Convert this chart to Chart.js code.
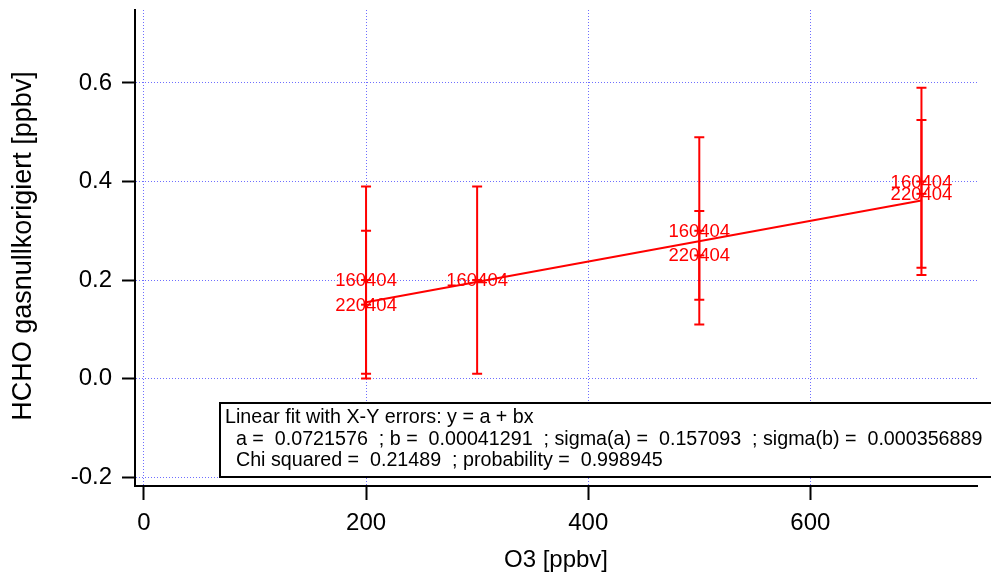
<!DOCTYPE html>
<html>
<head>
<meta charset="utf-8">
<script src="https://cdn.jsdelivr.net/npm/chart.js@4.4.1/dist/chart.umd.min.js"></script>
<style>
  html, body { margin: 0; padding: 0; background: #fff; }
  #wrap { width: 991px; height: 575px; }
</style>
</head>
<body>
<div id="wrap"><canvas id="c" width="991" height="575"></canvas></div>
<script>
// ---- data ----
const xValues = [200, 200, 300, 500, 500, 700, 700];
const yValues = [0.2, 0.15, 0.2, 0.3, 0.25, 0.4, 0.375];
const yErrors = [0.19, 0.15, 0.19, 0.19, 0.09, 0.19, 0.15];
const pointLabels = ['160404', '220404', '160404', '160404', '220404', '160404', '220404'];
const fitLineX = [200, 700];
const fitLineY = [0.1547, 0.3612];
const xTicks = [0, 200, 400, 600];
const yTicks = [-0.2, 0.0, 0.2, 0.4, 0.6];
const xRange = [-8, 750];
const yRange = [-0.218, 0.748];
const xTitle = 'O3 [ppbv]';
const yTitle = 'HCHO gasnullkorigiert [ppbv]';
const fitText = [
  'Linear fit with X-Y errors: y = a + bx',
  '  a =  0.0721576  ; b =  0.00041291  ; sigma(a) =  0.157093  ; sigma(b) =  0.000356889',
  '  Chi squared =  0.21489  ; probability =  0.998945'
];

const FONT = '"Liberation Sans", Arial, Helvetica, sans-serif';
const RED = '#ff0000';

const errorBarPlugin = {
  id: 'errorBars',
  afterDatasetsDraw(chart) {
    const ctx = chart.ctx;
    const xs = chart.scales.x, ys = chart.scales.y;
    ctx.save();
    ctx.strokeStyle = RED;
    ctx.lineWidth = 2;
    for (let i = 0; i < xValues.length; i++) {
      const px = xs.getPixelForValue(xValues[i]);
      const pTop = ys.getPixelForValue(yValues[i] + yErrors[i]);
      const pBot = ys.getPixelForValue(yValues[i] - yErrors[i]);
      ctx.beginPath();
      ctx.moveTo(px, pTop); ctx.lineTo(px, pBot);
      ctx.moveTo(px - 5, pTop); ctx.lineTo(px + 5, pTop);
      ctx.moveTo(px - 5, pBot); ctx.lineTo(px + 5, pBot);
      ctx.stroke();
    }
    ctx.fillStyle = RED;
    ctx.font = '18.5px ' + FONT;
    ctx.textAlign = 'center';
    ctx.textBaseline = 'middle';
    for (let i = 0; i < xValues.length; i++) {
      const px = xs.getPixelForValue(xValues[i]);
      const py = ys.getPixelForValue(yValues[i]);
      ctx.fillText(pointLabels[i], px, py + 1);
    }
    ctx.restore();
  },
  afterDraw(chart) {
    const ctx = chart.ctx;
    const area = chart.chartArea;
    ctx.save();
    // fit info box
    ctx.fillStyle = '#fff';
    ctx.fillRect(220, 403, 800, 74);
    ctx.strokeStyle = '#000';
    ctx.lineWidth = 2;
    ctx.strokeRect(220, 403, 800, 74);
    ctx.fillStyle = '#000';
    ctx.font = '19.7px ' + FONT;
    ctx.textAlign = 'left';
    ctx.textBaseline = 'alphabetic';
    const baselines = [423, 444.5, 466];
    fitText.forEach((t, i) => ctx.fillText(t, 225, baselines[i]));
    // axis titles
    ctx.font = '24px ' + FONT;
    ctx.textAlign = 'center';
    ctx.fillText(xTitle, (area.left + area.right) / 2, 567);
    ctx.save();
    ctx.translate(31, (area.top + area.bottom) / 2 - 2);
    ctx.rotate(-Math.PI / 2);
    ctx.font = '27px ' + FONT;
    ctx.fillText(yTitle, 0, 0);
    ctx.restore();
    ctx.restore();
  }
};

const gridCommon = {
  color: 'rgb(110,110,255)',
  lineWidth: 1,
  tickColor: '#000',
  tickWidth: 2,
  tickBorderDash: [],
  drawTicks: true
};

new Chart(document.getElementById('c'), {
  type: 'scatter',
  data: {
    datasets: [
      {
        label: 'fit',
        type: 'line',
        data: fitLineX.map((x, i) => ({ x, y: fitLineY[i] })),
        borderColor: RED,
        borderWidth: 2,
        pointRadius: 0,
        fill: false,
        tension: 0
      },
      {
        label: 'HCHO',
        data: xValues.map((x, i) => ({ x, y: yValues[i] })),
        pointStyle: 'line',
        pointRadius: 5,
        borderColor: RED,
        backgroundColor: RED,
        pointBorderWidth: 2
      }
    ]
  },
  options: {
    responsive: false,
    animation: false,
    devicePixelRatio: 1,
    layout: { padding: { left: 0, top: 10, right: 14, bottom: 0 } },
    plugins: { legend: { display: false }, tooltip: { enabled: false } },
    scales: {
      x: {
        type: 'linear',
        position: 'bottom',
        min: xRange[0], max: xRange[1],
        afterBuildTicks(s) { s.ticks = xTicks.map(v => ({ value: v })); },
        afterFit(s) { s.height = 89; s.paddingLeft = 0; s.paddingRight = 0; },
        ticks: {
          color: '#000', padding: 9, maxRotation: 0,
          font: { family: FONT, size: 24 },
          callback: v => String(v)
        },
        grid: Object.assign({}, gridCommon, { tickLength: 14 }),
        border: { display: true, color: '#000', width: 2, dash: [1, 2] }
      },
      y: {
        type: 'linear',
        position: 'left',
        min: yRange[0], max: yRange[1],
        afterBuildTicks(s) { s.ticks = yTicks.map(v => ({ value: v })); },
        afterFit(s) { s.width = 135; s.paddingTop = 0; s.paddingBottom = 0; },
        ticks: {
          color: '#000', padding: 10,
          font: { family: FONT, size: 24 },
          callback: v => Number(v).toFixed(1)
        },
        grid: Object.assign({}, gridCommon, { tickLength: 13 }),
        border: { display: true, color: '#000', width: 2, dash: [1, 2] }
      }
    }
  },
  plugins: [errorBarPlugin]
});
</script>
</body>
</html>
